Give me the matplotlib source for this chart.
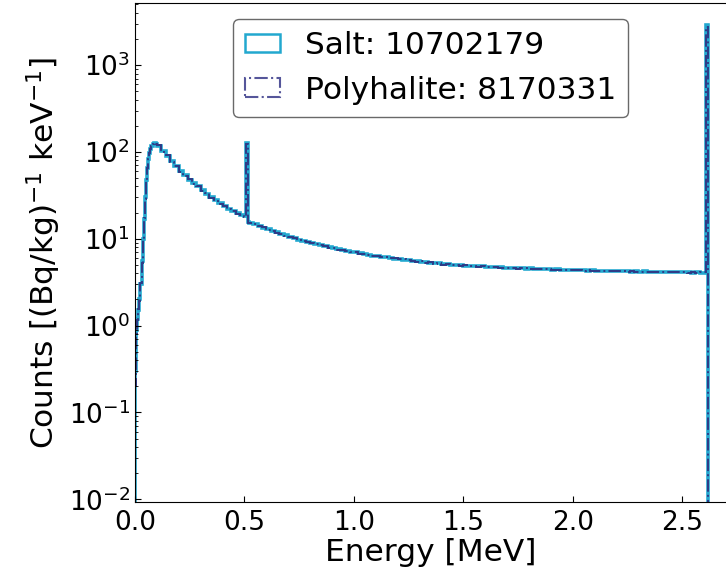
import numpy as np
import matplotlib
matplotlib.use("Agg")
import matplotlib.pyplot as plt
from matplotlib.patches import Patch

# bin values, grouped by energy region
# rise region: 0 - 0.1 MeV, 5 keV bins
salt_rise = [0.3, 0.9, 1.2, 1.5, 2.0, 3.0, 5.5, 10, 17, 30,
             48, 65, 82, 98, 108, 117, 123, 127, 127, 125]
poly_rise = [0.2, 0.8, 1.15, 1.55, 1.9, 3.1, 5.3, 9.6, 17.5, 29,
             47, 66, 84, 97, 109, 116, 122, 126, 128, 124]

# 0.1 - 0.5 MeV, 20 keV bins
salt_mid = [118, 102, 90, 78, 68, 60, 54, 48, 44, 40,
            36, 33, 30, 27.8, 25.5, 23.7, 22.2, 20.9, 19.6, 18.6]
poly_mid = [119, 101, 91, 77, 69, 59, 53, 49, 43, 40.5,
            35.5, 33.5, 29.5, 28, 25.2, 24, 22, 21.1, 19.4, 18.8]

# 511 keV annihilation line: 0.500, 0.506, 0.514, 0.520
salt_511 = [18.2, 127, 15.5]
poly_511 = [18.0, 124, 15.3]

# 0.52 - 2.60 MeV, 20 keV bins
salt_tail = [15.2, 14.6, 14.1, 13.3, 12.8, 12.2, 11.9, 11.3, 11.0, 10.5,
             10.2, 9.8, 9.5, 9.3, 8.9, 8.7, 8.5, 8.2, 8.0, 7.8,
             7.6, 7.5, 7.2, 7.1, 6.95, 6.8, 6.7, 6.5, 6.4, 6.35,
             6.2, 6.1, 6.0, 5.9, 5.85, 5.75, 5.7, 5.55, 5.5, 5.45,
             5.35, 5.3, 5.2, 5.2, 5.1, 5.1, 5.0, 5.0, 4.95, 4.9,
             4.9, 4.85, 4.8, 4.82, 4.75, 4.72, 4.7, 4.68, 4.62, 4.65,
             4.6, 4.55, 4.58, 4.52, 4.55, 4.5, 4.47, 4.5, 4.44, 4.42,
             4.45, 4.38, 4.4, 4.36, 4.38, 4.33, 4.35, 4.3, 4.32, 4.28,
             4.3, 4.25, 4.27, 4.22, 4.26, 4.2, 4.23, 4.18, 4.21, 4.17,
             4.2, 4.15, 4.18, 4.14, 4.16, 4.12, 4.17, 4.11, 4.14, 4.1,
             4.13, 4.08, 4.12, 4.07]
poly_tail = [15.0, 14.8, 13.9, 13.5, 12.6, 12.4, 11.7, 11.4, 10.9, 10.6,
             10.1, 9.9, 9.4, 9.2, 9.0, 8.6, 8.4, 8.3, 7.9, 7.9,
             7.5, 7.4, 7.3, 7.0, 7.0, 6.75, 6.65, 6.55, 6.35, 6.4,
             6.15, 6.15, 5.95, 5.95, 5.8, 5.8, 5.65, 5.6, 5.45, 5.5,
             5.3, 5.35, 5.15, 5.25, 5.05, 5.12, 4.97, 5.03, 4.9, 4.93,
             4.86, 4.88, 4.77, 4.8, 4.78, 4.7, 4.73, 4.64, 4.66, 4.6,
             4.63, 4.52, 4.56, 4.55, 4.5, 4.53, 4.45, 4.46, 4.47, 4.39,
             4.42, 4.41, 4.36, 4.39, 4.34, 4.36, 4.31, 4.33, 4.29, 4.31,
             4.26, 4.28, 4.23, 4.25, 4.21, 4.24, 4.19, 4.22, 4.16, 4.19,
             4.16, 4.18, 4.13, 4.16, 4.12, 4.15, 4.1, 4.14, 4.09, 4.12,
             4.07, 4.11, 4.06, 4.09]

# 2.614 MeV Tl-208 line: 2.600, 2.610, 2.618
salt_tl = [4.05, 2900]
poly_tl = [4.1, 2750]

salt_label = "Salt: 10702179"
poly_label = "Polyhalite: 8170331"
salt_color = "#22a8cf"
poly_color = "#2e3a87"


def build_edges():
    rise = np.arange(0, 21) * 0.005
    mid = 0.1 + np.arange(1, 21) * 0.02
    ann = [0.506, 0.514, 0.52]
    tail = 0.52 + np.arange(1, len(salt_tail) + 1) * 0.02
    tl = [2.61, 2.618]
    return np.concatenate([rise, mid, ann, tail, tl])


def main():
    edges = build_edges()
    salt = np.array(salt_rise + salt_mid + salt_511 + salt_tail + salt_tl)
    poly = np.array(poly_rise + poly_mid + poly_511 + poly_tail + poly_tl)

    fig = plt.figure(figsize=(7.26, 5.74), dpi=100)
    ax = fig.add_axes([135 / 726, 72 / 574, 591 / 726, 499 / 574])

    ax.stairs(salt, edges, baseline=0, color=salt_color, lw=2.6)
    ax.stairs(poly, edges, baseline=0, color=poly_color, lw=1.4,
              linestyle="-.")

    ax.set_yscale("log")
    ax.set_xlim(0, 2.7)
    ax.set_ylim(0.0093, 5190)
    ax.set_xticks([0.0, 0.5, 1.0, 1.5, 2.0, 2.5])
    ax.spines["right"].set_visible(False)
    ax.tick_params(which="both", direction="in", labelsize=19)
    ax.tick_params(which="major", length=4)
    ax.tick_params(which="minor", length=2.5)
    ax.tick_params(axis="x", pad=6)

    ax.set_xlabel("Energy [MeV]", fontsize=22.5, labelpad=1)
    ax.set_ylabel("Counts [(Bq/kg)$^{-1}$ keV$^{-1}$]", fontsize=22.5)

    # histogram-style legend boxes
    handles = [
        Patch(facecolor="none", edgecolor=salt_color, lw=1.8,
              label=salt_label),
        Patch(facecolor="none", edgecolor="#55569a", lw=1.5,
              linestyle="-.", label=poly_label),
    ]
    ax.legend(handles=handles, loc="upper center", fontsize=22.5,
              handlelength=1.1, handleheight=0.55, edgecolor="#444444")

    fig.savefig("out.png", dpi=100)


if __name__ == "__main__":
    main()
